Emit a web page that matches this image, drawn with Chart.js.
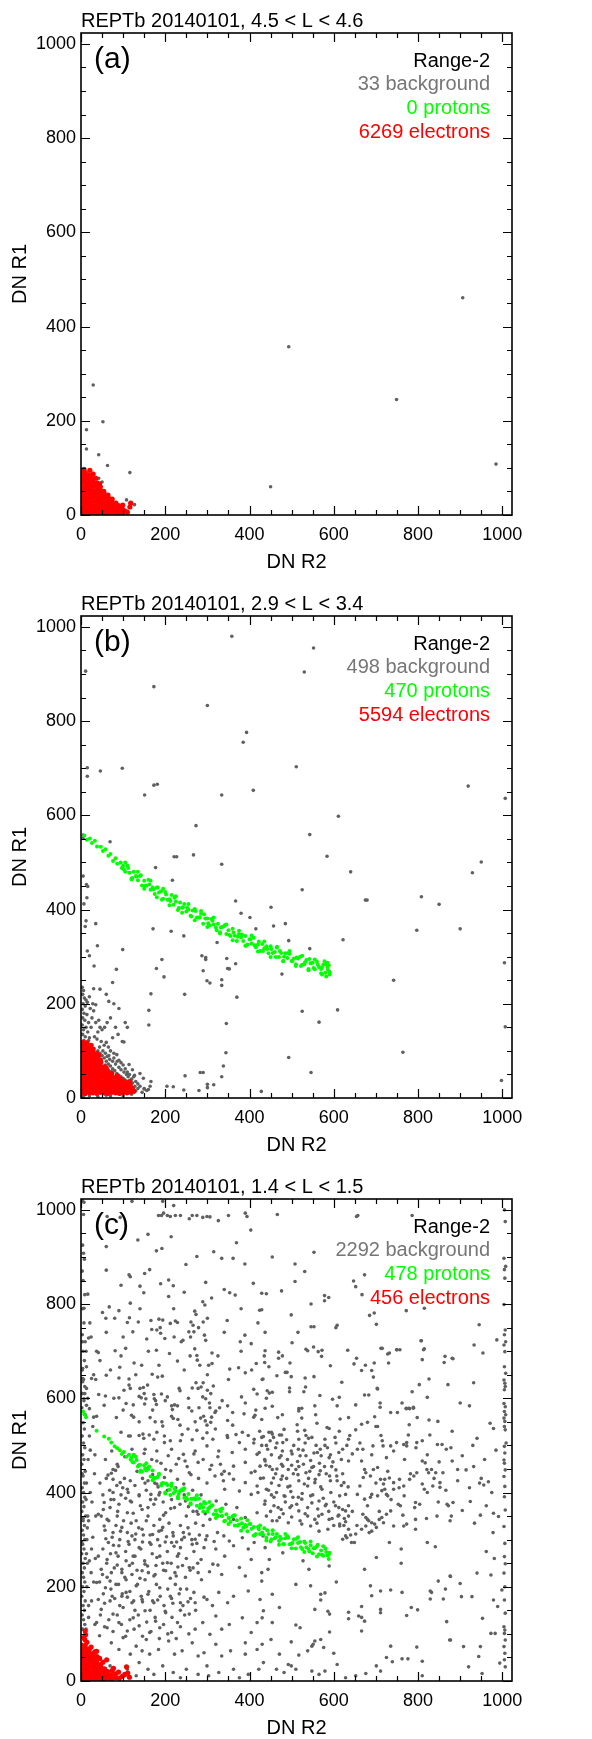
<!DOCTYPE html>
<html>
<head>
<meta charset="utf-8">
<script src="https://cdn.jsdelivr.net/npm/chart.js@4.4.1/dist/chart.umd.min.js"></script>
<style>
html,body{margin:0;padding:0;background:#fff;overflow:hidden;width:592px;height:1739px;}
.panel{position:absolute;left:0;width:592px;height:583px;}
</style>
</head>
<body>
<div class="panel" style="top:0px"><canvas id="ca" width="592" height="583"></canvas></div>
<div class="panel" style="top:583px"><canvas id="cb" width="592" height="583"></canvas></div>
<div class="panel" style="top:1166px"><canvas id="cc" width="592" height="583"></canvas></div>
<script>
// ---------- text & ticks ----------
const panelTitles = ['REPTb 20140101, 4.5 < L < 4.6', 'REPTb 20140101, 2.9 < L < 3.4', 'REPTb 20140101, 1.4 < L < 1.5'];
const panelLetters = ['(a)', '(b)', '(c)'];
const rangeLabel = 'Range-2';
const backgroundCounts = [33, 498, 2292];
const protonCounts = [0, 470, 478];
const electronCounts = [6269, 5594, 456];
const majorTickValues = [0, 200, 400, 600, 800, 1000];
const minorTickValues = [0, 50, 100, 150, 200, 250, 300, 350, 400, 450, 500, 550, 600, 650, 700, 750, 800, 850, 900, 950, 1000];
const xAxisTitle = 'DN R2';
const yAxisTitle = 'DN R1';

// ---------- panel (a) ----------
const aBackground = [[29,276],[52,198],[13,181],[13,140],[42,128],[63,105],[116,90],[42,78],[50,70],[55,47],[63,37],[108,32],[127,22],[493,357],[450,60],[749,245],[985,108],[906,461],[6,12],[4,3],[10,60],[20,5],[3,30],[15,8],[30,4],[8,45],[45,6],[60,5],[2,80],[70,12],[25,2],[35,10],[12,25]];
const aProtons = [];
const aElectrons = [[1,5],[1,13],[2,21],[1,29],[2,37],[1,45],[2,53],[1,61],[2,69],[1,77],[2,85],[1,91],
[10,4],[10,12],[9,20],[10,28],[11,36],[10,44],[9,52],[10,60],[11,68],[10,76],[9,84],[10,90],
[19,6],[19,14],[18,22],[19,30],[20,38],[19,46],[18,54],[19,62],[20,70],[19,78],[18,85],
[28,5],[28,13],[27,21],[28,29],[29,37],[28,45],[27,53],[28,61],[29,69],[28,76],
[37,4],[37,12],[36,20],[37,28],[38,36],[37,44],[36,52],[37,60],[38,68],
[46,6],[46,14],[45,22],[46,30],[47,38],[46,46],[45,54],[46,60],
[55,5],[55,13],[54,21],[55,29],[56,37],[55,45],[54,50],
[64,4],[64,12],[63,20],[64,28],[65,36],[64,42],
[73,6],[73,14],[72,22],[73,30],[74,34],
[82,5],[82,13],[81,21],[83,25],
[91,4],[91,12],[90,17],
[100,6],[99,11],
[7,97],[21,95],[29,87],[35,78],[89,20],[97,15],[116,17],[104,9],[110,6],[118,25],[99,21],[24,84],[44,66]];

// ---------- panel (b) ----------
const bBackgroundScatter = [[358,980],[552,955],[11,906],[530,904],[173,873],[300,833],[393,776],[385,755],[15,701],[46,694],[98,700],[511,703],[15,683],[151,643],[173,664],[181,666],[334,643],[409,653],[919,662],[1007,636],[273,578],[611,598],[543,559],[5,558],[5,551],[69,544],[221,512],[227,512],[267,516],[584,513],
[334,496],[177,489],[950,501],[640,480],[929,478],[217,462],[5,471],[13,453],[16,449],[525,442],[808,427],[675,420],[679,420],[367,418],[14,425],[850,411],[7,412],[451,405],[380,392],[401,383],[12,376],[10,364],[35,370],[485,370],[457,365],[415,359],[171,359],[900,359],[797,356],[214,354],[244,344],[622,336],[493,334],[323,330],[39,323],[543,317],[99,315],[15,312],[20,302],[287,302],[296,298],[296,294],[1005,287],[192,294],[346,296],[367,285],[31,280],[348,275],[352,274],[179,275],[290,270],[84,273],[590,268],[477,263],[197,257],[742,250],[334,251],[334,239],[299,249],[306,244],[75,245],[370,214],[246,220],[166,221],[609,187],[525,184],[161,186],[565,161],[345,158],[161,155],[1007,151],[102,119],[344,96],[764,97],[493,86],[338,68],[546,54],[283,54],[290,54],[247,47],[334,45],[998,37],[204,25],[219,24],[300,29],[315,28],[300,22],[280,16],[244,17],[428,14],
[140,52],[148,42],[156,16],[166,35],[164,25],[150,19],[114,71],[122,60],[127,48]];
const bBackgroundCluster = [[3,235],[6,228],[4,220],[8,212],[12,208],[15,203],[5,200],[10,195],[3,188],[7,180],[14,177],[4,170],[9,165],[18,160],[3,155],[12,150],[6,145],[16,140],[4,135],[10,130],[20,128],[7,122],[14,118],[3,112],[9,116],[18,122],[24,150],[26,170],[22,190],[28,200],[35,198],[30,185],[40,140],[45,150],[50,145],[56,150],[35,160],[42,165],[32,130],[38,125],[48,120],[55,112],[60,118],[65,108],[70,100],[78,95],[85,92],[90,80],[95,75],[100,70],[105,62],[110,55],[115,50],[120,40],[125,45],[130,35],[135,30],[140,25],[150,20],[160,18],[130,15],[145,12],[120,8],[100,5],[70,4],[40,3],[20,5],[10,7],[30,232],[45,231],[60,220],[20,215],[66,205],[78,200],[90,190],[70,170],[62,160],[82,150],[105,160],[110,150],[88,135],[75,128],[98,120],
[40,100],[45,95],[50,90],[55,85],[48,82],[60,78],[65,72],[70,68],[58,70],[75,62],[80,58],[72,56],[85,52],[90,48],[95,45],[88,40],[100,42],[105,38],[110,35],[98,32],[115,30],[62,88],[68,82],[75,78],[82,72],[90,65],[95,60],[102,55],[108,50],[52,100],[44,108],[58,95],[66,90],[78,85],[86,78],[112,45],[118,38],[122,32],[128,25],[135,20],[126,12],[110,10],[92,8],[60,6],[5,3],[2,10]];
const bProtons = [[8,557],[14,548],[21,551],[26,541],[33,546],[38,534],[47,533],[52,524],[58,528],[65,514],[70,518],[76,503],[82,509],[86,497],[94,500],[97,488],
[100,493],[105,480],[110,493],[115,478],[120,466],[125,480],[130,471],[135,462],[140,471],[145,451],[150,461],[155,451],[160,463],[165,442],[170,447],[175,433],[180,447],[185,436],[190,439],[195,423],[200,437],[205,421],[210,422],[215,431],[220,410],[225,417],[230,399],[235,415],[240,404],[245,412],[250,396],[255,400],[260,387],[265,398],[270,401],[275,383],[280,383],[285,391],[290,370],[295,381],[300,381],[305,366],[310,380],[315,368],[320,362],[325,370],[330,352],[335,363],[340,365],[345,348],
[350,356],[355,344],[360,359],[365,345],[370,333],[375,348],[380,341],[385,333],[390,344],[395,326],[400,337],[405,328],[410,340],[415,320],[420,326],[425,312],[430,327],[435,318],[440,322],[445,307],[450,322],[455,308],[460,310],[465,319],[470,299],[475,308],[480,291],[485,307],[490,297],[495,306],[500,291],[505,296],[510,284],[515,296],[520,300],[525,283],[530,284],[535,293],[540,274],[545,286],[550,287],[555,273],[560,289],[565,278],[570,274],[575,283],[580,266],[585,278],[588,282],[590,267],[582,258],[578,290],[586,272],[572,262],
[102,485],[112,488],[122,467],[132,470],[142,473],[152,450],[162,453],[172,443],[182,447],[192,421],[202,432],[212,418],[222,425],[232,403],[242,405],[252,404],[262,385],[272,397],[282,383],[292,390],[302,371],[312,376],[322,356],[332,362],[342,367],[352,346],[362,351],[372,342],[382,347],[392,323],[402,337],[412,324],[422,332],[432,312],[442,316],[452,316],[462,299],[472,312],[482,300],[492,308],[502,291],[512,298],[522,280],[532,288],[542,295],[552,276],[562,283],[572,277],[582,284],[590,262],
[105,500],[120,464],[135,480],[150,444],[165,461],[180,426],[195,444],[210,409],[225,428],[240,393],[255,412],[270,377],[285,397],[300,363],[315,383],[330,349],[345,368],[360,335],[375,355],[390,323],[405,345],[420,311],[435,332],[450,299],[465,321],[480,290],[495,312],[510,280],[525,302],[540,271],[555,294],[570,265],[585,287]];
const bElectrons = [[1,11],[1,19],[2,27],[1,35],[2,43],[1,51],[2,59],[1,67],[2,75],[1,83],[2,91],[1,99],[2,107],[1,112],
[10,10],[10,18],[9,26],[10,34],[11,42],[10,50],[9,58],[10,66],[11,74],[10,82],[9,90],[10,98],[11,106],[10,114],
[19,12],[19,20],[18,28],[19,36],[20,44],[19,52],[18,60],[19,68],[20,76],[19,84],[18,92],[19,100],[20,108],
[28,11],[28,19],[27,27],[28,35],[29,43],[28,51],[27,59],[28,67],[29,75],[28,83],[27,91],[28,99],[29,104],
[37,10],[37,18],[36,26],[37,34],[38,42],[37,50],[36,58],[37,66],[38,74],[37,82],[36,90],[37,94],
[46,12],[46,20],[45,28],[46,36],[47,44],[46,52],[45,60],[46,68],[47,76],[46,80],
[55,11],[55,19],[54,27],[55,35],[56,43],[55,51],[54,59],[55,66],
[64,10],[64,18],[63,26],[64,34],[65,42],[64,50],[63,58],
[73,12],[73,20],[72,28],[73,36],[74,44],[73,52],
[82,11],[82,19],[81,27],[82,35],[83,44],
[91,10],[91,18],[90,26],[91,34],[92,41],
[100,12],[100,20],[99,28],[100,36],
[109,11],[109,19],[108,27],[110,32],
[118,13],[118,21],[117,28],
[122,20],[125,15],[115,35],[5,118],[14,117],[24,112],[42,90],[60,64],[86,47],
[5,15],[14,22],[23,31],[32,40],[41,23],[50,32],[59,15],[68,24],[77,33],[86,16],[95,22],[104,15],[113,24],[5,47],[14,54],[23,63],[32,72],[41,55],[50,64],[59,47],[68,40],[77,17],[5,79],[14,86],[23,95],[32,87],[41,70],[50,48],[5,103],[14,102],[23,80]];

// ---------- panel (c) ----------
const cBackgroundUpperLeft = [[184,988],[191,988],[196,993],[205,988],[212,986],[224,988],[236,988],[257,981],[264,988],[275,988],[289,984],[299,986],[306,985],[326,977],[350,988],[390,993],[394,986],[403,957],[220,1009],[194,1018],[121,1018],[7,1016],[62,986],[93,984],
[135,936],[159,948],[60,922],[214,943],[179,913],[192,918],[275,901],[315,911],[334,897],[361,897],[369,930],[389,885],[249,884],[6,908],[60,872],[163,873],[151,865],[114,862],[117,858],[189,843],[208,851],[219,839],[296,846],[340,831],[353,824],[366,819],[409,844],[95,840],[140,838],[149,824],[245,825],[16,821],[208,816],[310,813],[117,802],[289,805],[294,798],[7,791],[51,782],[67,794],[90,786],[270,785],[273,778],[424,787],
[59,770],[80,770],[115,771],[110,761],[136,762],[166,765],[185,768],[194,766],[212,759],[224,764],[229,761],[261,762],[266,755],[290,762],[347,765],[168,746],[188,750],[256,741],[268,741],[279,750],[123,741],[189,738],[221,730],[199,727],[238,720],[242,723],[156,726],[293,734],[296,723],[389,734],[378,720],[404,716],[4,720],[18,728],[24,730],[81,701],[106,706],[179,702],[37,700],[41,697],
[229,679],[259,690],[275,691],[276,681],[311,696],[282,670],[303,670],[311,674],[353,662],[374,665],[390,654],[416,674],[430,640],[126,675],[144,670],[92,666],[13,667],[4,663],[60,649],[90,643],[114,641],[169,651],[182,645],[193,647],[4,642],[4,635],[25,642],[35,640],[114,628],[117,621],[140,621],[148,623],[158,628],[102,617],[42,608],[90,601],[138,604],[143,601],[154,599],[173,608],[174,599],[191,609],[205,603],[233,621],[235,616],[264,622],[273,633],[278,621],[285,624],[290,633],[300,617],[308,610],[314,626],[348,584],[381,603],[410,619],[418,609],[58,605],[13,621],[9,610],
[107,589],[124,586],[151,588],[177,595],[179,587],[215,584],[217,576],[222,586],[229,584],[256,580],[263,573],[289,603],[296,599],[305,590],[306,580],[320,573],[329,580],[7,599],[13,585],[20,578],[37,562],[84,559],[120,564],[138,550],[164,559],[176,550],[192,550],[194,541],[215,562],[219,557],[235,543],[254,535],[271,550],[284,558],[291,562],[295,552],[299,543],[308,549],[318,570],[348,553],[360,543],[387,567],[410,560],[413,564],[429,555],
[95,528],[113,520],[117,520],[138,521],[147,524],[162,522],[180,528],[198,520],[240,523],[275,532],[299,527],[319,535],[347,521],[368,523],[383,528],[397,521],[424,530]];
const cBackgroundUpperRight = [[466,990],[654,986],[657,988],[786,988],[454,900],[553,910],[508,885],[531,869],[508,848],[476,828],[429,823],[440,822],[647,849],[652,837],[673,862],[667,820],[578,818],[588,814],[578,807],[546,800],[429,788],[696,781],[685,776],[701,757],[499,777],[772,786],[815,791],
[437,740],[515,740],[546,752],[553,752],[605,750],[608,755],[501,718],[437,701],[469,698],[534,704],[538,701],[552,709],[563,699],[572,702],[633,702],[712,706],[749,703],[757,703],[807,722],[815,705],[469,685],[478,690],[571,689],[496,675],[436,676],[592,669],[654,685],[648,673],[696,675],[728,694],[730,675],[810,682],[862,676],[881,685],
[446,667],[465,648],[485,655],[489,655],[499,646],[532,643],[553,646],[666,659],[675,670],[690,659],[694,645],[619,634],[432,641],[803,629],[826,641],[871,629],[442,616],[447,611],[454,613],[495,622],[495,614],[529,614],[533,624],[567,606],[673,607],[683,607],[704,620],[786,614],[822,602],[597,598],[613,602],
[437,579],[454,583],[517,578],[524,579],[555,584],[608,584],[652,586],[710,590],[710,581],[762,590],[772,578],[780,578],[789,581],[467,559],[478,565],[517,573],[524,558],[557,565],[615,556],[635,559],[666,545],[680,549],[697,561],[735,570],[779,544],[798,559],[826,554],[847,551],
[433,519],[452,528],[454,524],[446,528],[471,522],[476,522],[482,534],[513,544],[514,530],[531,532],[534,521],[560,547],[584,538],[589,536],[613,530],[638,521],[652,533],[704,540],[712,521],[777,522],[828,522],[881,530],
[987,724],[979,536],[971,547],[945,756],[954,696],[932,633],[922,584],[940,515],[900,590],[883,684],[864,689],[808,722],[813,703],[750,703],[778,579],[789,579],[772,579],[751,570],[732,696],[715,706],[703,621],[700,540],[933,713],[1009,505]];
const cBackgroundLowerLeft = [[149,515],[173,513],[198,506],[212,510],[236,510],[264,512],[289,515],[313,513],[348,517],[376,506],[411,513],[429,500],[152,492],[180,488],[215,492],[243,481],[271,488],[299,499],[327,488],[359,485],[390,492],[418,481],
[86,460],[76,449],[159,453],[180,467],[201,449],[226,460],[247,467],[278,464],[306,449],[331,460],[362,456],[390,464],[425,456],[257,442],[334,439],[404,442],[72,441],
[76,428],[93,421],[159,425],[180,418],[362,428],[390,421],[418,414],[404,396],[376,403],[341,407],[76,400],[110,407],[138,393],[166,396],[187,400],
[55,379],[69,368],[90,375],[117,382],[145,364],[173,375],[201,357],[222,368],[250,350],[278,354],[306,343],[334,350],[362,343],[390,347],[418,357],[41,354],[62,343],[86,350],[110,357],[131,340],[159,350],[187,343],
[55,329],[76,315],[97,326],[121,308],[145,322],[170,311],[194,326],[219,308],[243,315],[271,301],[299,308],[324,315],[352,297],[383,304],[411,294],[432,308],[65,294],[90,287],[114,290],[138,283],[163,294],[187,287],[215,294],[236,283],[264,290],[292,283],[320,280],[362,287],[397,280],
[41,265],[62,258],[83,272],[107,255],[128,265],[152,248],[180,262],[205,251],[229,265],[257,241],[285,258],[313,248],[341,265],[376,241],[404,258],[429,230],[48,237],[72,230],[97,237],[121,226],[145,234],[173,223],[201,234],[226,223],[278,230],[334,226],[390,223],
[37,209],[58,198],[83,205],[107,188],[131,202],[159,184],[187,198],[212,180],[236,195],[268,188],[299,173],[327,188],[362,180],[397,191],[425,173],[41,173],[69,170],[97,180],[121,166],[145,173],[173,166],[236,166],[271,166],[348,166],
[48,152],[76,142],[100,156],[124,134],[152,149],[177,127],[201,145],[229,124],[257,142],[289,124],[320,138],[352,120],[383,134],[418,124],[37,124],[62,113],[90,124],[110,106],[138,117],[163,103],[187,113],[215,103],[271,110],[306,99],[334,110],[404,103],
[44,96],[72,81],[100,92],[131,74],[155,88],[184,67],[208,85],[240,64],[264,81],[292,60],[320,78],[355,64],[390,81],[418,67],[90,67],[117,57],[145,64],[163,57],[222,57],[278,53],[334,53],[390,57],
[69,32],[110,25],[138,39],[159,25],[194,32],[219,18],[250,25],[278,14],[299,32],[327,18],[362,25],[397,14],[422,25],[131,11],[173,14],[236,7],[303,11],[376,7]];
const cBackgroundDense = [[45,420],[52,395],[60,430],[68,405],[78,385],[85,415],[95,395],[103,430],[112,400],[120,380],[128,415],[138,395],[146,430],[155,405],[165,385],[175,420],[185,395],[195,380],[205,405],[215,385],[225,410],[235,375],[245,395],[255,370],[265,405],[275,360],[285,395],[295,355],
[48,350],[57,320],[66,340],[74,305],[83,330],[92,300],[101,340],[110,315],[119,335],[128,300],[137,325],[146,295],[155,340],[164,310],[173,330],[182,300],[191,320],[200,295],[209,335],[218,315],[227,295],[236,330],[245,305],[254,325],[263,300],[272,335],[281,310],[290,330],
[52,280],[61,250],[70,270],[79,240],[88,265],[97,230],[106,275],[115,245],[124,265],[133,235],[142,280],[151,255],[160,230],[169,270],[178,245],[187,265],[196,235],[205,275],[214,250],[223,230],[232,270],[241,245],[250,260],[259,235],[268,275],[277,250],
[44,210],[53,185],[62,220],[71,195],[80,175],[89,205],[98,185],[107,215],[116,190],[125,170],[134,205],[143,180],[152,215],[161,190],[170,170],[179,205],[188,180],[197,160],[206,195],[215,175],[224,205],[233,185],[242,160],[251,195],[260,175],
[46,140],[56,115],[66,130],[76,105],[86,140],[96,120],[106,95],[116,130],[126,110],[136,140],[146,95],[156,125],[166,105],[176,135],[186,90],[196,120],[206,100],[216,135],[226,90],[236,115],[246,140],[256,100]];
const cBackgroundExtra = [[58,470],[73,488],[88,455],[104,476],[121,492],[137,458],[150,483],[168,470],[190,462],[207,478],[232,472],[252,455],[268,482],[290,470],[310,458],[325,476],[340,445],
[64,437],[82,447],[99,410],[117,425],[133,445],[152,420],[170,438],[183,412],[198,432],[213,446],[229,428],[244,418],[261,438],[279,430],[299,420],[318,435],[338,425],[352,440],
[53,364],[71,385],[87,360],[106,388],[124,356],[141,372],[159,368],[177,386],[196,352],[213,366],[231,388],[248,382],[266,360],[284,375],[303,365],[321,382],[344,375],[370,368],
[59,302],[77,288],[94,318],[112,296],[130,312],[148,310],[166,290],[185,318],[203,306],[221,286],[239,300],[257,312],[275,292],[296,300],[316,296],[339,308],
[51,226],[69,212],[86,246],[104,220],[122,250],[140,218],[158,244],[176,226],[194,250],[212,218],[230,242],[248,220],[266,240],[286,215],[305,232],[325,246],
[56,165],[74,180],[92,160],[110,178],[128,150],[146,168],[164,150],[182,172],[200,148],[218,165],[236,150],[254,168],[272,150],[292,178],[312,160],
[12,110],[18,135],[25,170],[30,210],[20,255],[28,305],[18,340],[26,380],[32,440],[22,490],[28,540],[16,600],[30,650],[12,700],[21,760],[33,120],[34,260],[35,350],[33,480],
[410,505],[423,485],[436,470],[449,510],[462,495],[475,478],[488,512],[501,482],[514,466],[527,490],[540,515],[553,484],[566,462],[579,500],[592,480],[605,505],[618,470],[631,500],[644,482],
[413,445],[426,430],[439,458],[452,420],[465,450],[478,435],[491,412],[504,440],[517,455],[530,418],[543,445],[556,428],[569,412],[582,440],[595,455],[608,425],[621,440],[634,412],
[420,400],[436,375],[452,395],[468,368],[484,392],[500,372],[516,390],[532,355],[548,378],[564,350],[580,372],[596,345],[612,368],[628,338],[644,360],
[662,505],[690,480],[715,510],[742,488],[768,470],[795,495],[822,480],[850,465],[878,495],[905,478],[930,500],[958,470],[985,490],
[670,432],[700,420],[728,445],[755,410],[782,440],[810,418],[838,430],[866,405],[894,425],[922,410],[950,430],[975,400],
[680,372],[708,360],[736,385],[764,352],[792,368],[820,345],[848,380],[876,340],[905,362],[934,335],[962,372],
[30,560],[55,585],[78,600],[100,575],[125,560],[150,610],[170,575],[200,595],[230,555],[255,600],[280,580],[310,560],[335,595],[360,570],[390,590],[415,575],[440,600],
[45,680],[70,660],[95,690],[130,650],[160,700],[185,670],[210,695],[245,660],[270,705],[300,650],[325,690],[350,640],[380,700],[405,660],[435,690],
[60,740],[100,730],[140,790],[180,745],[220,790],[260,730],[300,770],[340,740],[380,790],[420,760]];
const cBackgroundLowerRight = [[429,517],[457,517],[479,506],[517,513],[548,517],[579,513],[603,517],[635,513],[443,492],[471,474],[499,488],[516,492],[534,478],[561,485],[568,492],[589,474],[621,492],[635,467],[437,467],[454,449],[479,456],[492,449],[510,449],[534,442],[548,453],[568,446],[590,435],[607,435],[624,421],[433,431],[457,431],[475,428],[496,414],[517,425],[538,414],[555,421],[572,407],[593,400],[614,393],[628,396],[440,407],[464,400],[482,393],[503,390],[524,386],[545,393],[565,382],[582,375],[604,372],[621,364],[635,372],[437,382],[458,372],[475,364],[496,368],[517,361],[538,350],[555,343],[572,354],[589,343],[610,350],[628,361],[440,350],[454,340],[471,347],[492,336],[524,333],[545,329],[565,318],[586,322],[628,308],[635,322],[614,329],[621,301],[649,294],
[430,315],[437,283],[479,272],[447,258],[444,237],[429,212],[454,184],[510,205],[527,255],[541,237],[545,202],[589,244],[606,210],[569,184],[579,187],[569,172],[555,152],[586,148],[590,142],[635,146],[635,132],[659,138],[666,158],[673,127],[666,106],[433,149],[430,134],[471,156],[454,124],[510,119],[520,113],[451,88],[499,83],[471,57],[517,55],[538,64],[548,74],[555,85],[569,88],[576,71],[590,104],[600,59],[551,78],[430,78],[433,39],[464,25],[482,18],[492,35],[499,32],[510,25],[548,21],[565,14],[579,21],[608,35],[628,7],[652,11],[676,16],[701,32],[711,21],[735,74],[725,50],[739,41],[762,47],[776,47],[797,72],[810,42],[810,11],
[656,492],[669,492],[693,499],[717,499],[725,474],[735,499],[749,506],[766,502],[773,499],[773,506],[797,506],[810,510],[846,502],[857,502],[867,492],[881,467],[666,467],[673,449],[694,449],[704,453],[676,442],[687,435],[711,428],[721,428],[718,418],[732,431],[742,421],[756,428],[766,414],[780,428],[790,435],[797,442],[810,467],[817,463],[821,449],[825,442],[832,449],[842,442],[852,421],[859,442],[662,414],[656,396],[673,386],[687,390],[690,396],[704,393],[714,404],[721,407],[725,396],[728,393],[742,407],[753,375],[758,372],[767,393],[794,379],[804,375],[815,407],[822,400],[835,414],[852,411],[869,375],[883,379],[845,350],
[669,354],[676,347],[680,343],[683,340],[690,336],[697,333],[708,343],[714,347],[725,354],[735,361],[742,329],[766,329],[773,333],[794,343],[635,350],[614,333],[624,330],[631,304],[642,294],[652,312],[666,322],[676,329],[684,315],[690,318],[701,326],[718,336],[732,294],[794,322],[822,294],[841,285],[760,280],[760,250],[701,262],[673,237],[687,202],[711,191],[690,181],[735,193],[762,188],[784,156],[799,151],[773,139],[711,152],[711,145],[666,135],[829,191],[832,188],[829,174],[860,174],[848,212],[865,195],[876,223],[868,126],[875,87],[879,350],[872,372],
[440,500],[452,480],[465,505],[478,488],[490,470],[505,500],[520,478],[532,505],[545,468],[558,500],[570,478],[585,495],[598,465],[612,485],[448,455],[462,440],[476,460],[488,430],[500,458],[515,438],[528,460],[540,430],[552,455],[565,438],[578,455],[592,425],[605,448],[618,415],[445,405],[458,390],[470,415],[485,380],[498,402],[512,375],[525,398],[538,368],[550,395],[562,365],[575,388],[588,360],[600,380],[612,352],[450,360],[465,340],[480,355],[500,348],[520,340],[560,335],[600,330],[625,345],[640,310],[655,330],
[894,449],[914,448],[932,455],[946,420],[956,416],[967,423],[924,381],[948,352],[979,356],[991,349],[978,315],[962,275],[981,260],[940,229],[973,225],[900,207],[877,222],[903,179],[928,179],[979,172],[953,133],[973,101],[908,73],[944,52],[948,73],[920,30],[952,16],[994,38],[983,101],[989,158],[999,193],[877,87]];
const cBackgroundEdges = [[3,1020],[6,990],[4,925],[8,895],[3,870],[5,850],[9,820],[4,790],[7,760],[3,735],[10,720],[5,700],[8,680],[3,660],[6,640],[9,625],[4,610],[7,595],[2,580],[10,565],[5,548],[8,535],[3,520],[6,505],[9,495],[4,480],[7,470],[2,460],[10,445],[5,435],[8,420],[3,410],[6,400],[9,390],[4,380],[7,370],[2,360],[11,350],[5,340],[8,330],[3,320],[6,310],[9,300],[4,290],[7,280],[2,270],[10,260],[5,250],[8,240],[3,230],[6,220],[9,210],[4,200],[7,190],[2,180],[10,170],[5,160],[8,150],[3,140],[6,130],[9,120],[4,110],[14,300],[16,350],[15,250],[13,420],[17,470],[14,200],[18,160],[22,400],[25,280],[20,520],[24,230],[12,385],[15,325],[13,270],[3,440],[5,345],[2,295],
[1005,1000],[1007,975],[1004,897],[1008,880],[1005,873],[1006,855],[1004,799],[1007,745],[1005,735],[1008,720],[1004,713],[1006,699],[1005,667],[1008,653],[1004,639],[1006,632],[1007,625],[1005,618],[1004,589],[1007,582],[1005,572],[1008,565],[1004,558],[1006,551],[1005,540],[1007,533],[1005,498],[1006,484],[1004,469],[1005,462],[1007,448],[1004,434],[1006,413],[1005,391],[1007,363],[1004,328],[1006,292],[1005,264],[1007,249],[1004,229],[1006,200],[1005,172],[1007,144],[1004,115],[1006,108],[1005,101],[1007,87],[1004,73],[1006,59],[1005,45],[1007,30]];
const cProtons = [[5,572],[8,566],[12,560],[37,531],[55,519],[66,514],[72,506],[80,498],[86,494],[92,490],[97,482],[102,486],[108,476],[114,480],[118,470],
[120,474],[125,464],[130,476],[135,455],[140,459],[145,444],[150,458],[155,447],[160,450],[165,434],[170,447],[175,431],[180,432],[185,438],[190,415],[195,420],[200,400],[205,416],[210,406],[215,414],[220,399],[225,403],[230,391],[235,403],[240,407],[245,389],[250,389],[255,397],[260,377],[265,387],[270,388],[275,372],[280,387],[285,374],[290,369],[295,377],[300,359],[305,369],[310,372],[315,354],[320,362],[325,350],[330,364],[335,350],[340,339],[345,354],[350,346],[355,338],[360,349],[365,330],[370,341],[375,332],[380,345],[385,325],[390,331],[395,318],[400,333],[405,323],[410,327],[415,312],[420,327],[425,312],[430,314],[435,324],[440,304],[445,312],[450,296],[455,312],[460,303],[465,312],[470,297],[475,302],[480,291],[485,303],[490,307],[495,290],[500,292],[505,301],[510,281],[515,293],[520,295],[525,280],[530,296],[535,284],[540,280],[545,288],[550,271],[555,282],[560,286],[565,269],[570,277],[575,266],[580,281],[585,267],[590,272],
[122,465],[132,469],[142,447],[152,451],[162,455],[172,431],[182,433],[192,419],[202,419],[212,395],[222,408],[232,397],[242,405],[252,385],[262,387],[272,386],[282,367],[292,380],[302,366],[312,373],[322,354],[332,360],[342,340],[352,346],[362,351],[372,330],[382,335],[392,328],[402,333],[412,309],[422,322],[432,311],[442,320],[452,301],[462,305],[472,306],[482,290],[492,304],[502,293],[512,302],[522,284],[532,293],[542,275],[552,282],[562,289],[572,268],[582,274],[588,268],
[125,480],[140,444],[155,462],[170,426],[185,440],[200,398],[215,419],[230,388],[245,409],[260,375],[275,394],[290,360],[305,380],[320,346],[335,366],[350,333],[365,352],[380,319],[395,341],[410,309],[425,330],[440,298],[455,320],[470,289],[485,312],[500,282],[515,305],[530,274],[545,296],[560,264],[575,286],[588,259]];
const cElectrons = [[1,4],[1,12],[2,20],[1,28],[2,36],[1,44],[2,52],[1,60],[2,68],[1,76],
[10,3],[10,11],[9,19],[10,27],[11,35],[10,43],[9,51],[10,59],[11,67],[10,75],[9,88],[11,98],[10,106],
[19,5],[19,13],[18,21],[19,29],[20,37],[19,45],[18,53],[19,61],[20,68],
[28,4],[28,12],[27,20],[28,28],[29,36],[28,44],[27,52],[29,58],
[37,6],[37,14],[36,22],[37,30],[38,38],[37,46],[38,52],[37,63],
[46,5],[46,13],[45,21],[46,29],[47,35],
[55,4],[55,12],[54,20],[56,26],
[64,6],[64,14],[63,20],
[73,5],[72,12],[74,22],
[82,7],[82,15],
[77,27],[89,19],[108,30],[111,17],[61,45],[49,27],[98,10],[115,8],[14,82],[6,92],[24,72],[33,62],[52,40],[44,48],[91,6],[104,14]];

// ---------- styling ----------
const FONT = "'Liberation Sans', Arial, Helvetica, sans-serif";
const GRAY_POINT = '#606060';
const GRAY_TEXT = '#767676';
const GREEN = '#00ff00';
const RED = '#ff0000';

const toXY = arr => arr.map(p => ({x: p[0], y: p[1]}));

const overlayPlugin = {
  id: 'overlay',
  afterDatasetsDraw(chart) {
    const {ctx, chartArea: a, scales} = chart;
    const xs = scales.x, ys = scales.y;
    ctx.save();
    ctx.strokeStyle = '#000';
    ctx.lineWidth = 1.2;
    ctx.beginPath();
    minorTickValues.forEach(v => {
      const len = majorTickValues.includes(v) ? 9 : 5;
      const px = Math.round(xs.getPixelForValue(v)) + 0.5;
      ctx.moveTo(px, a.bottom); ctx.lineTo(px, a.bottom - len);
      ctx.moveTo(px, a.top); ctx.lineTo(px, a.top + len);
      const py = Math.round(ys.getPixelForValue(v)) + 0.5;
      ctx.moveTo(a.left, py); ctx.lineTo(a.left + len, py);
      ctx.moveTo(a.right, py); ctx.lineTo(a.right - len, py);
    });
    ctx.stroke();
    ctx.lineWidth = 1.6;
    ctx.strokeRect(a.left, a.top, a.right - a.left, a.bottom - a.top);
    ctx.restore();
  },
  afterDraw(chart) {
    const {ctx, chartArea: a} = chart;
    const i = chart.options.plugins.overlay.index;
    ctx.save();
    ctx.textBaseline = 'alphabetic';
    ctx.fillStyle = '#000';
    ctx.font = '20px ' + FONT;
    ctx.textAlign = 'left';
    ctx.fillText(panelTitles[i], a.left, a.top - 6);
    ctx.font = '30px ' + FONT;
    ctx.fillText(panelLetters[i], a.left + 13, a.top + 35);
    ctx.font = '20px ' + FONT;
    ctx.textAlign = 'right';
    const rx = a.right - 22;
    ctx.fillStyle = '#000';
    ctx.fillText(rangeLabel, rx, a.top + 34);
    ctx.fillStyle = GRAY_TEXT;
    ctx.fillText(backgroundCounts[i] + ' background', rx, a.top + 57);
    ctx.fillStyle = GREEN;
    ctx.fillText(protonCounts[i] + ' protons', rx, a.top + 81);
    ctx.fillStyle = RED;
    ctx.fillText(electronCounts[i] + ' electrons', rx, a.top + 105);
    ctx.restore();
  }
};

function makeChart(id, index, electrons, protons, background) {
  return new Chart(document.getElementById(id), {
    type: 'scatter',
    data: {
      datasets: [
        {label: 'electrons', data: toXY(electrons), backgroundColor: RED, borderWidth: 0, pointRadius: 2.6},
        {label: 'protons', data: toXY(protons), backgroundColor: GREEN, borderWidth: 0, pointRadius: 2.0},
        {label: 'background', data: toXY(background), backgroundColor: GRAY_POINT, borderWidth: 0, pointRadius: 1.8}
      ]
    },
    options: {
      responsive: false,
      animation: false,
      devicePixelRatio: 1,
      events: [],
      layout: {padding: {left: 0, right: 80, top: 33, bottom: 0}},
      plugins: {legend: {display: false}, tooltip: {enabled: false}, overlay: {index: index}},
      scales: {
        x: {
          type: 'linear', min: 0, max: 1023,
          afterBuildTicks: s => { s.ticks = majorTickValues.map(v => ({value: v})); },
          afterFit: s => { s.height = 68; },
          grid: {display: false, drawTicks: false},
          border: {display: false},
          ticks: {color: '#000', font: {family: FONT, size: 18}, padding: 9, maxRotation: 0, autoSkip: false, callback: v => String(v)},
          title: {display: true, text: xAxisTitle, color: '#000', font: {family: FONT, size: 20}, padding: {top: 0, bottom: 9}}
        },
        y: {
          type: 'linear', min: 0, max: 1023,
          afterBuildTicks: s => { s.ticks = majorTickValues.map(v => ({value: v})); },
          afterFit: s => { s.width = 81; },
          grid: {display: false, drawTicks: false},
          border: {display: false},
          ticks: {color: '#000', font: {family: FONT, size: 18}, padding: 5, autoSkip: false, callback: v => String(v)},
          title: {display: true, text: yAxisTitle, color: '#000', font: {family: FONT, size: 20}, padding: {top: 8, bottom: 0}}
        }
      }
    },
    plugins: [overlayPlugin]
  });
}

makeChart('ca', 0, aElectrons, aProtons, aBackground);
makeChart('cb', 1, bElectrons, bProtons, bBackgroundScatter.concat(bBackgroundCluster));
makeChart('cc', 2, cElectrons, cProtons,
  cBackgroundUpperLeft.concat(cBackgroundUpperRight, cBackgroundLowerLeft, cBackgroundDense, cBackgroundExtra, cBackgroundLowerRight, cBackgroundEdges));
</script>
</body>
</html>
